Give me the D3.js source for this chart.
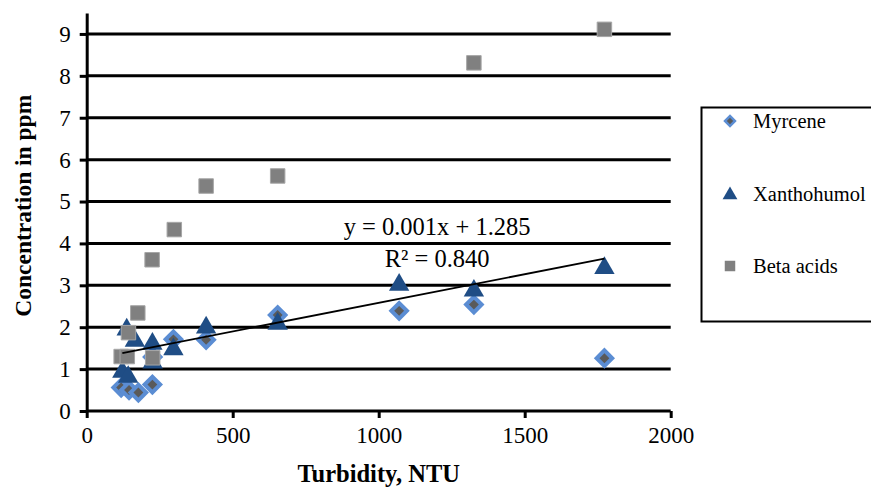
<!DOCTYPE html>
<html>
<head>
<meta charset="utf-8">
<script src="https://cdnjs.cloudflare.com/ajax/libs/d3/7.8.5/d3.min.js"></script>
<style>
  body { margin: 0; background: #fff; }
  svg text { font-family: "Liberation Serif", "Times New Roman", "DejaVu Serif", serif; }
</style>
</head>
<body>
<svg id="chart" width="871" height="487"></svg>
<script>
// values
let myrceneX = [118, 145, 177, 225, 226, 297, 409, 654, 1070, 1326, 1773];
let myrceneY = [0.56, 0.50, 0.44, 0.63, 1.29, 1.71, 1.70, 2.29, 2.39, 2.54, 1.26];

let xanthoX = [122, 142, 137, 165, 226, 225, 297, 409, 654, 1070, 1326, 1773];
let xanthoY = [0.98, 0.86, 1.99, 1.72, 1.20, 1.65, 1.52, 2.04, 2.13, 3.06, 2.92, 3.46];

let betaX = [118, 139, 143, 175, 224, 226, 300, 409, 654, 1326, 1773];
let betaY = [1.30, 1.30, 1.87, 2.34, 3.61, 1.27, 4.33, 5.37, 5.61, 8.31, 9.11];

let seriesNames = ['Myrcene', 'Xanthohumol', 'Beta acids'];
let xTicks = [0, 500, 1000, 1500, 2000];
let yTicks = [0, 1, 2, 3, 4, 5, 6, 7, 8, 9];
let trendLabel = ['y = 0.001x + 1.285', 'R\u00b2 = 0.840'];
let trendLabelAt = [1200, 4.2];

let serif = '"Liberation Serif", "Times New Roman", "DejaVu Serif", serif';

let svg = d3.select('#chart');
let pad = {t: 13, l: 86.7};
let x = d3.scaleLinear().domain([0, 2000]).range([pad.l, 670.7]);
let y = d3.scaleLinear().domain([0, 9.5]).range([411, pad.t]);

let myrceneBlue = '#5b8dd3';
let myrceneFill = '#5a5a5a';
let xanthoColor = '#1f4d85';
let betaColor = '#808080';

// grid lines
svg.append('g')
    .selectAll('line')
    .data(yTicks.filter(d => d > 0))
    .enter().append('line')
    .attr('x1', x(0)).attr('x2', x(2000))
    .attr('y1', d => y(d)).attr('y2', d => y(d))
    .attr('stroke', '#000').attr('stroke-width', 3);

// axes
let xAxis = d3.axisBottom(x).tickValues(xTicks).tickFormat(d3.format('d'))
    .tickSizeInner(7).tickSizeOuter(0).tickPadding(9);
let yAxis = d3.axisLeft(y).tickValues(yTicks).tickFormat(d3.format('d'))
    .tickSizeInner(7).tickSizeOuter(0).tickPadding(9);

let gx = svg.append('g').attr('transform', `translate(0, ${y(0)})`).call(xAxis);
let gy = svg.append('g').attr('transform', `translate(${x(0)}, 0)`).call(yAxis);
[gx, gy].forEach(g => {
    g.attr('font-family', serif).attr('font-size', 23);
    g.select('.domain').attr('stroke', '#000').attr('stroke-width', 3);
    g.selectAll('.tick line').attr('stroke', '#000').attr('stroke-width', 3);
    g.selectAll('.tick text').attr('fill', '#000');
});
gx.select('.domain').attr('d', `M${x(0)},0H${x(2000)}`);

// axis titles
svg.append('text')
    .attr('x', x(1000)).attr('y', 482)
    .attr('text-anchor', 'middle')
    .attr('font-family', serif)
    .style('font-size', '24.5px').style('font-weight', 'bold')
    .text('Turbidity, NTU');
svg.append('text')
    .attr('transform', `translate(31, ${y(4.9)}) rotate(-90)`)
    .attr('text-anchor', 'middle')
    .attr('font-family', serif)
    .style('font-size', '23.5px').style('font-weight', 'bold')
    .text('Concentration in ppm');

// series
let diamond = d3.symbol().type(d3.symbolSquare).size(121);
let triangle = d3.symbol().type(d3.symbolTriangle).size(180);
let square = d3.symbol().type(d3.symbolSquare).size(210);

let plot = svg.append('g');
plot.selectAll('.myrcene')
    .data(myrceneX)
    .enter().append('path')
    .attr('class', 'myrcene')
    .attr('d', diamond)
    .attr('transform', (d, i) => `translate(${x(d)}, ${y(myrceneY[i])}) rotate(45)`)
    .attr('fill', myrceneFill)
    .attr('stroke', myrceneBlue)
    .attr('stroke-width', 4);

plot.selectAll('.xantho')
    .data(xanthoX)
    .enter().append('path')
    .attr('class', 'xantho')
    .attr('d', triangle)
    .attr('transform', (d, i) => `translate(${x(d)}, ${y(xanthoY[i]) + 2})`)
    .attr('fill', xanthoColor);

plot.selectAll('.beta')
    .data(betaX)
    .enter().append('path')
    .attr('class', 'beta')
    .attr('d', square)
    .attr('transform', (d, i) => `translate(${x(d)}, ${y(betaY[i])})`)
    .attr('fill', betaColor)
    .attr('stroke', '#a6a6a6')
    .attr('stroke-width', 1);

// linear trend on Xanthohumol (least squares)
let mx = d3.mean(xanthoX), my = d3.mean(xanthoY);
let sxy = d3.sum(xanthoX, (d, i) => (d - mx) * (xanthoY[i] - my));
let sxx = d3.sum(xanthoX, d => (d - mx) * (d - mx));
let slope = sxy / sxx, icpt = my - slope * mx;
let xExt = d3.extent(xanthoX);
svg.append('path')
    .datum(xExt)
    .attr('d', d3.line().x(d => x(d)).y(d => y(icpt + slope * d)))
    .attr('stroke', '#000').attr('stroke-width', 1.8).attr('fill', 'none');

svg.append('g').selectAll('text')
    .data(trendLabel)
    .enter().append('text')
    .attr('x', x(trendLabelAt[0]))
    .attr('y', (d, i) => y(trendLabelAt[1]) + i * 32)
    .attr('text-anchor', 'middle')
    .attr('font-family', serif)
    .style('font-size', '24.5px')
    .text(d => d);

// legend
let lg = svg.append('g');
lg.append('rect')
    .attr('x', 701.5).attr('y', 107.5)
    .attr('width', 190).attr('height', 214)
    .attr('fill', '#fff').attr('stroke', '#000').attr('stroke-width', 2);
let legendY = [121, 194, 266];
let legendSym = [
    d3.symbol().type(d3.symbolSquare).size(49),
    d3.symbol().type(d3.symbolTriangle).size(95),
    d3.symbol().type(d3.symbolSquare).size(110)
];
let legendItem = lg.selectAll('.item')
    .data(seriesNames)
    .enter().append('g')
    .attr('transform', (d, i) => `translate(730, ${legendY[i]})`);
legendItem.append('path')
    .attr('d', (d, i) => legendSym[i]())
    .attr('transform', (d, i) => i === 0 ? 'rotate(45)' : (i === 1 ? 'translate(0,1)' : ''))
    .attr('fill', (d, i) => [myrceneFill, xanthoColor, betaColor][i])
    .attr('stroke', (d, i) => i === 0 ? myrceneBlue : 'none')
    .attr('stroke-width', 2.5);
legendItem.append('text')
    .attr('x', 23).attr('y', 7)
    .attr('font-family', serif)
    .style('font-size', '20.5px')
    .text(d => d);
</script>
</body>
</html>
